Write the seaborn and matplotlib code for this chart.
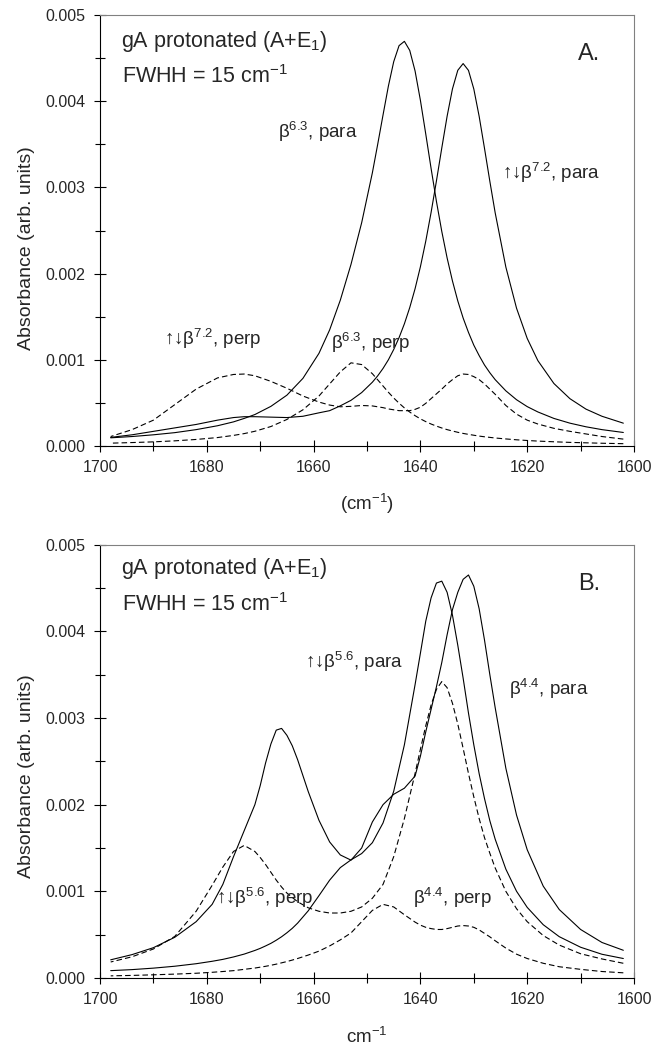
import numpy as np
import pandas as pd
import matplotlib
matplotlib.use("Agg")
import matplotlib.pyplot as plt
from matplotlib.ticker import MultipleLocator, FormatStrFormatter
import seaborn as sns

# absorbance values below are in units of 1e-3

# panel A
wn_a = [1698, 1694, 1690, 1686, 1682, 1678, 1675, 1673, 1671, 1668, 1665, 1662, 1659,
        1657, 1655, 1653, 1651, 1649, 1648, 1647, 1646, 1645, 1644, 1643, 1642, 1641,
        1640, 1639, 1638, 1637, 1636, 1635, 1634, 1633, 1632, 1631, 1630, 1629, 1628,
        1627, 1626, 1624, 1622, 1620, 1618, 1615, 1612, 1609, 1606, 1602]
b63_para = [0.095, 0.11, 0.13, 0.155, 0.19, 0.235, 0.28, 0.32, 0.365, 0.46, 0.59, 0.785, 1.075,
            1.347, 1.692, 2.107, 2.591, 3.169, 3.50, 3.841, 4.175, 4.459, 4.645, 4.695, 4.59, 4.351,
            4.01, 3.62, 3.22, 2.838, 2.49, 2.182, 1.915, 1.683, 1.485, 1.318, 1.17, 1.049, 0.94,
            0.85, 0.77, 0.64, 0.537, 0.457, 0.395, 0.32, 0.265, 0.223, 0.19, 0.157]
b72_para = [0.10, 0.13, 0.17, 0.21, 0.25, 0.30, 0.33, 0.34, 0.34, 0.335, 0.33, 0.345, 0.385,
            0.41, 0.466, 0.53, 0.62, 0.74, 0.814, 0.90, 1.00, 1.12, 1.257, 1.418, 1.606, 1.825,
            2.08, 2.376, 2.71, 3.075, 3.457, 3.826, 4.143, 4.359, 4.437, 4.358, 4.142, 3.825, 3.454,
            3.072, 2.706, 2.076, 1.599, 1.248, 0.99, 0.725, 0.549, 0.428, 0.345, 0.265]
b72_perp = [0.11, 0.19, 0.30, 0.48, 0.66, 0.79, 0.83, 0.835, 0.815, 0.75, 0.67, 0.58, 0.51,
            0.475, 0.455, 0.46, 0.47, 0.465, 0.455, 0.445, 0.43, 0.42, 0.41, 0.41, 0.41, 0.425,
            0.45, 0.495, 0.55, 0.605, 0.66, 0.72, 0.77, 0.815, 0.835, 0.83, 0.805, 0.77, 0.72,
            0.66, 0.60, 0.47, 0.37, 0.30, 0.255, 0.205, 0.17, 0.14, 0.11, 0.08]
b63_perp = [0.033, 0.040, 0.048, 0.060, 0.076, 0.098, 0.123, 0.144, 0.171, 0.226, 0.308, 0.42, 0.58,
            0.72, 0.86, 0.965, 0.945, 0.839, 0.768, 0.696, 0.624, 0.557, 0.497, 0.442, 0.394, 0.352,
            0.315, 0.283, 0.255, 0.231, 0.209, 0.19, 0.174, 0.159, 0.146, 0.135, 0.125, 0.115, 0.107,
            0.10, 0.093, 0.082, 0.072, 0.064, 0.057, 0.049, 0.042, 0.037, 0.032, 0.027]

# panel B
wn_b = [1698, 1694, 1690, 1686, 1682, 1679, 1677, 1675, 1673, 1671, 1670, 1669, 1668,
        1667, 1666, 1665, 1664, 1663, 1661, 1659, 1657, 1655, 1653, 1651, 1649, 1647,
        1645, 1643, 1641, 1640, 1639, 1638, 1637, 1636, 1635, 1634, 1633, 1632, 1631,
        1630, 1629, 1628, 1627, 1626, 1624, 1622, 1620, 1617, 1614, 1610, 1606, 1602]
b44_para = [0.21, 0.27, 0.35, 0.47, 0.65, 0.85, 1.08, 1.40, 1.70, 2.00, 2.22, 2.48, 2.70,
            2.86, 2.88, 2.80, 2.68, 2.52, 2.15, 1.82, 1.57, 1.42, 1.36, 1.50, 1.80, 2.00,
            2.12, 2.19, 2.33, 2.56, 2.84, 3.10, 3.36, 3.64, 3.96, 4.25, 4.45, 4.60, 4.65,
            4.52, 4.26, 3.90, 3.50, 3.12, 2.42, 1.88, 1.48, 1.06, 0.79, 0.56, 0.41, 0.32]
b56_para = [0.085, 0.097, 0.114, 0.136, 0.165, 0.193, 0.215, 0.243, 0.276, 0.318, 0.342, 0.37, 0.40,
            0.436, 0.476, 0.522, 0.573, 0.633, 0.776, 0.95, 1.129, 1.274, 1.363, 1.436, 1.561, 1.789,
            2.155, 2.691, 3.385, 3.748, 4.117, 4.386, 4.557, 4.579, 4.45, 4.187, 3.839, 3.46, 3.057,
            2.69, 2.358, 2.071, 1.815, 1.602, 1.256, 1.001, 0.815, 0.615, 0.477, 0.355, 0.274, 0.225]
b56_perp = [0.185, 0.245, 0.335, 0.48, 0.77, 1.07, 1.28, 1.46, 1.53, 1.46, 1.39, 1.31, 1.22,
            1.13, 1.05, 0.98, 0.93, 0.88, 0.81, 0.77, 0.75, 0.75, 0.77, 0.82, 0.92, 1.08,
            1.40, 1.84, 2.36, 2.64, 2.91, 3.15, 3.33, 3.42, 3.35, 3.17, 2.93, 2.65, 2.36,
            2.09, 1.84, 1.62, 1.44, 1.27, 1.00, 0.80, 0.65, 0.49, 0.38, 0.28, 0.22, 0.17]
b44_perp = [0.025, 0.03, 0.037, 0.045, 0.055, 0.066, 0.075, 0.085, 0.10, 0.115, 0.125, 0.135, 0.147,
            0.16, 0.175, 0.19, 0.207, 0.225, 0.265, 0.31, 0.37, 0.44, 0.52, 0.65, 0.78, 0.85,
            0.82, 0.73, 0.645, 0.61, 0.585, 0.57, 0.56, 0.56, 0.57, 0.585, 0.60, 0.605, 0.60,
            0.585, 0.555, 0.515, 0.475, 0.43, 0.345, 0.275, 0.225, 0.17, 0.13, 0.10, 0.075, 0.06]

sns.set_style("ticks")
plt.rcParams["font.family"] = ["Liberation Sans", "DejaVu Sans"]
plt.rcParams["mathtext.fontset"] = "custom"
plt.rcParams["mathtext.rm"] = "Liberation Sans"
plt.rcParams["mathtext.it"] = "Liberation Sans:italic"
plt.rcParams["mathtext.bf"] = "Liberation Sans:bold"


def draw_panel(ax, wn, curves, letter, xlabel, xlab_y, ylab_y, head_y, fwhh_y):
    frames = []
    for name, kind, vals in curves:
        frames.append(pd.DataFrame({"wn": wn, "absorb": np.array(vals) * 1e-3,
                                    "curve": name, "kind": kind}))
    df = pd.concat(frames, ignore_index=True)
    sns.lineplot(data=df, x="wn", y="absorb", units="curve", estimator=None,
                 style="kind", dashes={"para": "", "perp": (5, 2.8)},
                 color="black", lw=0.8, legend=False, ax=ax)

    ax.set_xlim(1700, 1600)
    ax.set_ylim(0, 0.005)
    ax.xaxis.set_major_locator(MultipleLocator(20))
    ax.xaxis.set_minor_locator(MultipleLocator(10))
    ax.yaxis.set_major_locator(MultipleLocator(0.001))
    ax.yaxis.set_minor_locator(MultipleLocator(0.0005))
    ax.yaxis.set_major_formatter(FormatStrFormatter("%.3f"))
    ax.tick_params(which="both", direction="inout", width=0.8, color="black",
                   top=False, right=False, labelsize=11.5)
    ax.tick_params(which="major", length=9)
    ax.tick_params(which="minor", length=7)
    ax.tick_params(axis="x", pad=5.5)
    ax.tick_params(axis="y", pad=6)
    for s in ["left", "bottom"]:
        ax.spines[s].set_color("black")
        ax.spines[s].set_linewidth(0.8)
    for s in ["top", "right"]:
        ax.spines[s].set_color("#808080")
        ax.spines[s].set_linewidth(0.8)

    ax.set_xlabel(xlabel, fontsize=13.5)
    ax.set_ylabel("Absorbance (arb. units)", fontsize=14)
    ax.xaxis.set_label_coords(0.5, xlab_y)
    ax.yaxis.set_label_coords(-0.122, ylab_y)

    ax.text(0.039, head_y, r"gA protonated (A+E$_1$)", transform=ax.transAxes,
            fontsize=15.5, va="baseline")
    ax.text(0.041, fwhh_y, r"FWHH = 15 cm$^{-1}$", transform=ax.transAxes,
            fontsize=15.5, va="baseline")
    ax.text(0.895, 0.895, letter, transform=ax.transAxes, fontsize=17, va="baseline")


fig = plt.figure(figsize=(6.65, 10.45), dpi=100)
ax_a = fig.add_axes([0.1504, 0.5732, 0.803, 0.4124])
ax_b = fig.add_axes([0.1504, 0.0641, 0.803, 0.4147])

draw_panel(ax_a, wn_a,
           [("b63_para", "para", b63_para), ("b72_para", "para", b72_para),
            ("b72_perp", "perp", b72_perp), ("b63_perp", "perp", b63_perp)],
           "A.", r"(cm$^{-1}$)", -0.106, 0.459, 0.927, 0.843)
lab = dict(fontsize=13.5, va="baseline", ha="left")
ax_a.text(1666.7, 0.00357, r"β$^{6.3}$, para", **lab)
ax_a.text(1624.7, 0.00310, r"↑↓β$^{7.2}$, para", **lab)
ax_a.text(1688.1, 0.00117, r"↑↓β$^{7.2}$, perp", **lab)
ax_a.text(1656.8, 0.00113, r"β$^{6.3}$, perp", **lab)

draw_panel(ax_b, wn_b,
           [("b44_para", "para", b44_para), ("b56_para", "para", b56_para),
            ("b56_perp", "perp", b56_perp), ("b44_perp", "perp", b44_perp)],
           "B.", r"cm$^{-1}$", -0.112, 0.466, 0.932, 0.847)
ax_b.text(1661.6, 0.00358, r"↑↓β$^{5.6}$, para", **lab)
ax_b.text(1623.5, 0.00326, r"β$^{4.4}$, para", **lab)
ax_b.text(1678.2, 0.00085, r"↑↓β$^{5.6}$, perp", **lab)
ax_b.text(1641.3, 0.00085, r"β$^{4.4}$, perp", **lab)

fig.savefig("out.png", dpi=100)
